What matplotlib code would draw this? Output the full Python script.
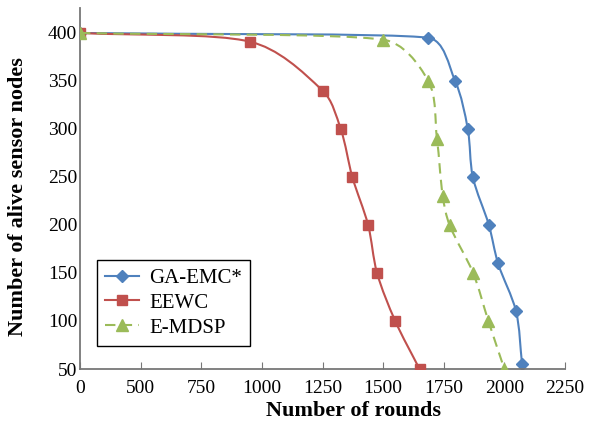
import numpy as np
import matplotlib
matplotlib.use("Agg")
import matplotlib.pyplot as plt
from matplotlib.path import Path
from matplotlib.patches import PathPatch
from matplotlib.lines import Line2D

# data
ga_x = [0, 1685, 1797, 1849, 1870, 1936, 1974, 2048, 2073]
ga_y = [400, 395, 350, 300, 250, 200, 160, 110, 55]

ee_x = [0, 950, 1250, 1325, 1373, 1438, 1475, 1550, 1650]
ee_y = [400, 391, 340, 300, 250, 200, 150, 100, 50]

md_x = [0, 1500, 1686, 1722, 1746, 1774, 1871, 1934, 2000]
md_y = [400, 393, 350, 290, 230, 200, 150, 100, 50]

xticks = [0, 500, 750, 1000, 1250, 1500, 1750, 2000, 2250]
yticks = [50, 100, 150, 200, 250, 300, 350, 400]

plt.rcParams['font.family'] = ['Liberation Serif', 'DejaVu Serif']


def fwd(x):
    # the axis squeezes 0..500 into one tick interval
    x = np.asarray(x, dtype=float)
    return np.where(x < 500, 250 + x / 2.0, x)


def inv(x):
    x = np.asarray(x, dtype=float)
    return np.where(x < 500, (x - 250) * 2.0, x)


# rough pixel size of one unit, so the smoothing works in screen space
SX = 485 / 2000.0
SY = 361 / 376.0


def smooth_path(xs, ys, k=0.33):
    """Smoothed line (like a spreadsheet 'smooth line') as a Bezier path.
    Handles are kept inside each segment's box so nothing overshoots."""
    p = np.column_stack([fwd(xs) * SX, np.asarray(ys, float) * SY])
    n = len(p)
    tan = np.zeros_like(p)
    for i in range(n):
        v = p[min(i + 1, n - 1)] - p[max(i - 1, 0)]
        tan[i] = v / np.hypot(*v)
    verts = [p[0]]
    codes = [Path.MOVETO]
    for i in range(n - 1):
        seg = p[i + 1] - p[i]
        L = np.hypot(*seg)
        hs = []
        for t in (tan[i], tan[i + 1]):
            s = k * L
            for c in (0, 1):
                if abs(t[c]) > 1e-9:
                    s = min(s, abs(seg[c]) / abs(t[c]))
            hs.append(s)
        verts += [p[i] + tan[i] * hs[0], p[i + 1] - tan[i + 1] * hs[1], p[i + 1]]
        codes += [Path.CURVE4] * 3
    verts = np.array(verts)
    verts[:, 0] = inv(verts[:, 0] / SX)
    verts[:, 1] = verts[:, 1] / SY
    return Path(verts, codes)


fig = plt.figure(figsize=(6, 4.34), dpi=100)
ax = fig.add_axes([80/600, 1 - 369/434, 485/600, 361/434])
ax.set_xscale('function', functions=(fwd, inv))

series = [
    (ga_x, ga_y, '#4F81BD', '-', 'D', 6.5, 'GA-EMC*'),
    (ee_x, ee_y, '#C0504D', '-', 's', 7.5, 'EEWC'),
    (md_x, md_y, '#9BBB59', (0, (5, 3)), '^', 8.5, 'E-MDSP'),
]
handles = []
for i, (xs, ys, col, ls, mk, ms, lab) in enumerate(series):
    ax.add_patch(PathPatch(smooth_path(xs, ys), fill=False, edgecolor=col,
                           lw=1.5, linestyle=ls, zorder=2 + i))
    ax.plot(xs, ys, ls='none', marker=mk, ms=ms, color=col, zorder=2.5 + i)
    handles.append(Line2D([], [], color=col, lw=1.5, linestyle=ls,
                          marker=mk, ms=ms, label=lab))

ax.set_xlim(0, 2250)
ax.set_ylim(50, 426)
ax.set_xticks(xticks)
ax.set_xticklabels([str(t) for t in xticks])
ax.set_yticks(yticks)
ax.tick_params(axis='x', direction='in', length=5, color='#777777',
               labelsize=14, pad=8)
ax.tick_params(axis='y', length=0, labelsize=14, pad=2)
ax.minorticks_off()

for s in ['top', 'right']:
    ax.spines[s].set_visible(False)
for s in ['left', 'bottom']:
    ax.spines[s].set_color('#777777')
    ax.spines[s].set_linewidth(1.3)

ax.set_xlabel('Number of rounds', fontsize=16, fontweight='bold')
ax.set_ylabel('Number of alive sensor nodes', fontsize=16, fontweight='bold')
ax.xaxis.set_label_coords((353 - 80) / 485, -0.088)
ax.yaxis.set_label_coords(-0.107, (369 - 197) / 361)

leg = ax.legend(handles=handles, loc='lower left',
                bbox_to_anchor=(0.035, 0.064), borderaxespad=0, fontsize=15,
                fancybox=False, framealpha=1, edgecolor='black',
                handlelength=1.6, handletextpad=0.5, borderpad=0.4,
                labelspacing=0.25)
leg.get_frame().set_linewidth(1.0)

fig.savefig('out.png', dpi=100)
